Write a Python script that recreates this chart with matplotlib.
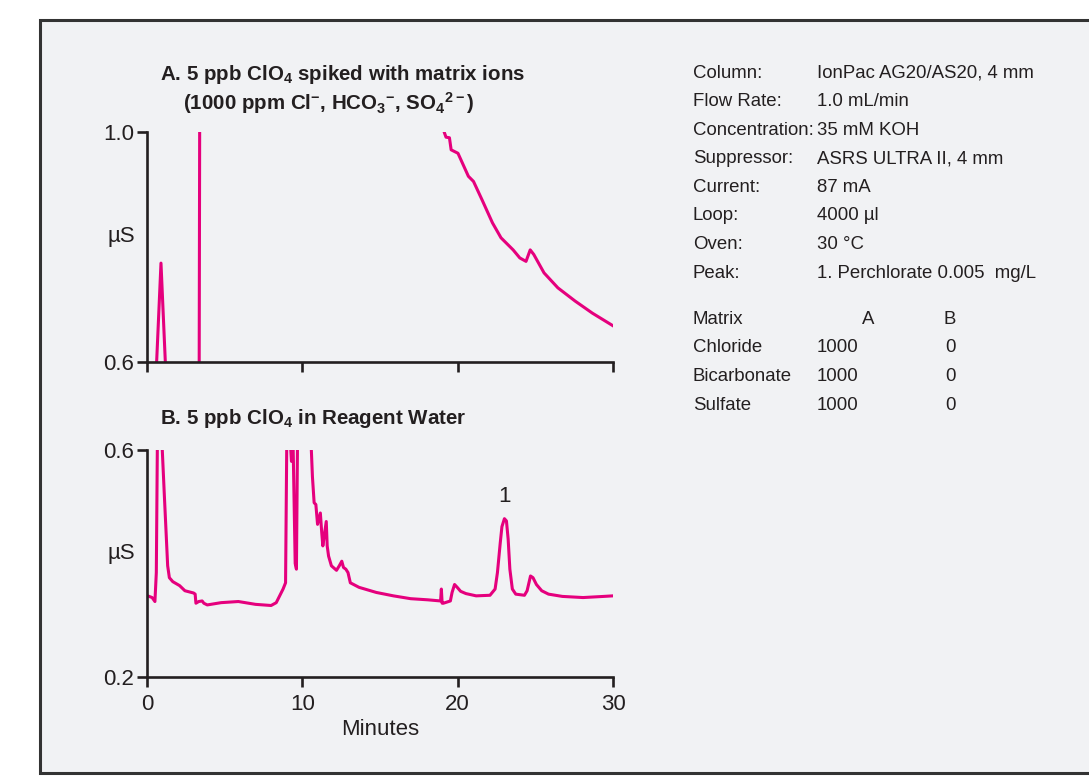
import matplotlib
matplotlib.use("Agg")
import matplotlib.pyplot as plt
from matplotlib import font_manager as fm
from matplotlib.patches import Rectangle

# Data (time in minutes, conductivity in uS)
# Panel A: 5 ppb ClO4 spiked with matrix ions (values outside 0.6-1.0 are off scale)
a_time = [0.0, 0.62, 0.90, 1.18, 1.30, 3.30, 3.36, 3.42, 19.05, 19.13, 19.25, 19.47,
          19.58, 19.80, 20.02, 20.69, 21.02, 21.57, 22.24, 22.79, 23.57, 24.00, 24.20,
          24.40, 24.67, 24.90, 25.56, 26.45, 27.56, 28.67, 30.0]
a_signal = [0.55, 0.60, 0.772, 0.60, 0.55, 0.55, 0.60, 1.40, 1.40, 1.00, 0.991, 0.990,
            0.969, 0.966, 0.963, 0.923, 0.914, 0.882, 0.842, 0.816, 0.795, 0.781, 0.778,
            0.775, 0.795, 0.787, 0.755, 0.729, 0.706, 0.685, 0.663]

# Panel B: 5 ppb ClO4 in reagent water
b_time = [0.04, 0.33, 0.51, 0.60, 0.67, 0.80, 0.95, 1.11, 1.33, 1.44, 1.66, 2.10, 2.44,
          3.00, 3.10, 3.15, 3.33, 3.55, 3.66, 3.88, 4.77, 5.88, 6.99, 7.99, 8.32, 8.76,
          8.92, 9.00, 9.15, 9.30, 9.38, 9.54, 9.62, 9.70, 10.1, 10.58, 10.65, 10.76,
          10.87, 10.98, 11.16, 11.25, 11.32, 11.54, 11.60, 11.69, 11.87, 12.20, 12.38,
          12.54, 12.65, 12.80, 12.94, 13.09, 13.65, 14.76, 15.86, 16.97, 18.08, 18.90,
          18.95, 19.00, 19.08, 19.53, 19.64, 19.80, 19.97, 20.19, 20.53, 21.19, 22.08,
          22.41, 22.56, 22.74, 22.85, 23.01, 23.14, 23.25, 23.36, 23.52, 23.74, 24.30,
          24.47, 24.69, 24.85, 25.07, 25.41, 25.85, 26.74, 28.07, 29.40, 30.0]
b_signal = [0.343, 0.340, 0.333, 0.384, 0.62, 0.65, 0.62, 0.524, 0.396, 0.375, 0.368,
            0.361, 0.352, 0.348, 0.346, 0.330, 0.333, 0.334, 0.330, 0.327, 0.331, 0.333,
            0.328, 0.326, 0.331, 0.355, 0.366, 0.62, 0.65, 0.580, 0.65, 0.40, 0.39, 0.65,
            0.70, 0.60, 0.553, 0.507, 0.504, 0.469, 0.489, 0.454, 0.431, 0.474, 0.431,
            0.413, 0.396, 0.388, 0.396, 0.404, 0.393, 0.390, 0.384, 0.366, 0.358, 0.349,
            0.343, 0.338, 0.336, 0.334, 0.355, 0.330, 0.330, 0.334, 0.349, 0.363, 0.358,
            0.351, 0.347, 0.343, 0.344, 0.355, 0.384, 0.436, 0.465, 0.479, 0.475, 0.443,
            0.390, 0.355, 0.346, 0.344, 0.352, 0.378, 0.375, 0.363, 0.352, 0.346, 0.342,
            0.340, 0.342, 0.343]

peak_label = "1"
peak_time = 23.0
peak_label_y = 0.50

cond_labels = ["Column:", "Flow Rate:", "Concentration:", "Suppressor:", "Current:",
               "Loop:", "Oven:", "Peak:"]
cond_values = ["IonPac AG20/AS20, 4 mm", "1.0 mL/min", "35 mM KOH",
               "ASRS ULTRA II, 4 mm", "87 mA", "4000 µl", "30 °C",
               "1. Perchlorate 0.005  mg/L"]
matrix_names = ["Chloride", "Bicarbonate", "Sulfate"]
matrix_a = ["1000", "1000", "1000"]
matrix_b = ["0", "0", "0"]

# fonts: prefer a condensed face like the original
names = {f.name for f in fm.fontManager.ttflist}
family = "Liberation Sans Narrow" if "Liberation Sans Narrow" in names else "Liberation Sans"
plt.rcParams["font.family"] = [family, "DejaVu Sans"]
plt.rcParams["mathtext.fontset"] = "custom"
plt.rcParams["mathtext.rm"] = family + ":bold"
plt.rcParams["mathtext.default"] = "rm"

ink = "#231F20"
magenta = "#E5007D"
bg = "#F1F2F4"
W, H = 1089, 783
fs = 13.4    # regular text
fs_t = 14.8  # bold titles

fig = plt.figure(figsize=(W / 100, H / 100), dpi=100)
fig.patch.set_facecolor("white")
# panel background and frame
fig.patches.append(Rectangle((40 / W, 1 - 773 / H), 1.2, (773 - 20) / H,
                             transform=fig.transFigure, facecolor=bg,
                             edgecolor="#333333", linewidth=2.2, zorder=-5))


def style_axes(ax, ymin, ymax):
    ax.set_facecolor("none")
    for s in ["top", "right"]:
        ax.spines[s].set_visible(False)
    for s in ["left", "bottom"]:
        ax.spines[s].set_linewidth(1.9)
        ax.spines[s].set_color(ink)
    ax.set_xlim(0, 30)
    ax.set_ylim(ymin, ymax)
    ax.set_xticks([0, 10, 20, 30])
    ax.set_yticks([ymin, ymax])
    ax.yaxis.set_major_formatter(plt.FormatStrFormatter("%.1f"))
    ax.tick_params(direction="out", length=7, width=1.9, color=ink,
                   labelsize=16, labelcolor=ink, pad=2)
    ax.tick_params(axis="x", pad=5)
    ax.set_ylabel("µS", fontsize=16, color=ink, rotation=0, labelpad=0)
    ax.yaxis.set_label_coords(-0.055, 0.5)


axA = fig.add_axes([147 / W, 1 - 362 / H, 466 / W, 230 / H])
style_axes(axA, 0.6, 1.0)
axA.tick_params(axis="x", labelbottom=False)
axA.plot(a_time, a_signal, color=magenta, lw=2.2, solid_joinstyle="round")

axB = fig.add_axes([147 / W, 1 - 677 / H, 466 / W, 227 / H])
style_axes(axB, 0.2, 0.6)
axB.plot(b_time, b_signal, color=magenta, lw=2.2, solid_joinstyle="round")
axB.set_xlabel("Minutes", fontsize=16, color=ink, labelpad=3)
axB.text(peak_time, peak_label_y, peak_label, fontsize=16, color=ink, ha="center", va="bottom")

# titles
fig.text(160 / W, 1 - 75 / H, r"A. 5 ppb ClO$_4$ spiked with matrix ions",
         fontsize=fs_t, fontweight="bold", color=ink, va="center")
fig.text(183 / W, 1 - 103 / H, r"(1000 ppm Cl$^{-}$, HCO$_3$$^{-}$, SO$_4$$^{2-}$)",
         fontsize=fs_t, fontweight="bold", color=ink, va="center")
fig.text(160 / W, 1 - 418 / H, r"B. 5 ppb ClO$_4$ in Reagent Water",
         fontsize=fs_t, fontweight="bold", color=ink, va="center")

# conditions block
y0, dy = 73, 28.6
for i, (lab, val) in enumerate(zip(cond_labels, cond_values)):
    y = 1 - (y0 + i * dy) / H
    fig.text(693 / W, y, lab, fontsize=fs, color=ink, va="center")
    fig.text(817 / W, y, val, fontsize=fs, color=ink, va="center")

y = 1 - 319 / H
fig.text(693 / W, y, "Matrix", fontsize=fs, color=ink, va="center")
fig.text(868 / W, y, "A", fontsize=fs, color=ink, va="center", ha="center")
fig.text(950 / W, y, "B", fontsize=fs, color=ink, va="center", ha="center")
for i, (nm, va_, vb_) in enumerate(zip(matrix_names, matrix_a, matrix_b)):
    y = 1 - (348 + i * 29) / H
    fig.text(693 / W, y, nm, fontsize=fs, color=ink, va="center")
    fig.text(817 / W, y, va_, fontsize=fs, color=ink, va="center")
    fig.text(950 / W, y, vb_, fontsize=fs, color=ink, va="center", ha="center")

fig.savefig("out.png", dpi=100)
